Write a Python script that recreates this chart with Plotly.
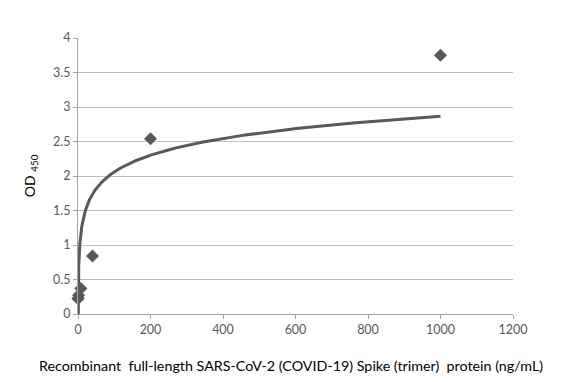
import numpy as np
import plotly.graph_objects as go

conc = [0.064, 0.32, 1.6, 8, 40, 200, 1000]
od450 = [0.22, 0.23, 0.27, 0.37, 0.84, 2.54, 3.75]
x_ticks = [0, 200, 400, 600, 800, 1000, 1200]
y_ticks = [0, 0.5, 1, 1.5, 2, 2.5, 3, 3.5, 4]
y_tick_text = ["0", "0.5", "1", "1.5", "2", "2.5", "3", "3.5", "4"]
x_title = "Recombinant  full-length SARS-CoV-2 (COVID-19) Spike (trimer)  protein (ng/mL)"
y_title = "OD <sub>450</sub>"

# Logarithmic trendline fitted to the data (y = a ln x + b)
a, b = np.polyfit(np.log(conc), od450, 1)
xf = np.geomspace(min(conc), max(conc), 400)
yf = a * np.log(xf) + b

FONT = "Lato, Open Sans, sans-serif"
GREY = "#595959"

fig = go.Figure()
fig.add_trace(go.Scatter(x=xf, y=yf, mode="lines",
                         line=dict(color=GREY, width=3), hoverinfo="skip"))
fig.add_trace(go.Scatter(x=conc, y=od450, mode="markers",
                         marker=dict(symbol="diamond", size=10, color=GREY),
                         cliponaxis=False))

fig.update_layout(
    width=566, height=366,
    margin=dict(l=70, r=61, t=30, b=60, autoexpand=False),
    paper_bgcolor="white", plot_bgcolor="white",
    showlegend=False,
    font=dict(family=FONT, size=12.5, color=GREY),
    annotations=[
        dict(text=x_title, xref="paper", yref="paper", x=0.49, y=-0.185,
             xanchor="center", yanchor="middle", showarrow=False,
             font=dict(family=FONT, size=14.3, color="black")),
        dict(text=y_title, xref="paper", yref="paper", x=-0.11, y=0.5,
             xanchor="center", yanchor="middle", showarrow=False, textangle=-90,
             font=dict(family=FONT, size=14, color="black")),
    ],
)
fig.update_xaxes(range=[0, 1200], tickvals=x_ticks, showgrid=False,
                 showline=True, linecolor="#a6a6a6", linewidth=1,
                 ticks="outside", ticklen=4, tickcolor="#a6a6a6",
                 zeroline=False, automargin=False)
fig.update_yaxes(range=[0, 4], tickvals=y_ticks, ticktext=y_tick_text,
                 showgrid=True, gridcolor="#c0c0c0", gridwidth=1,
                 showline=True, linecolor="#a6a6a6", linewidth=1,
                 ticks="outside", ticklen=4, tickcolor="#a6a6a6",
                 zeroline=False, automargin=False)

fig.write_html("out.html")
